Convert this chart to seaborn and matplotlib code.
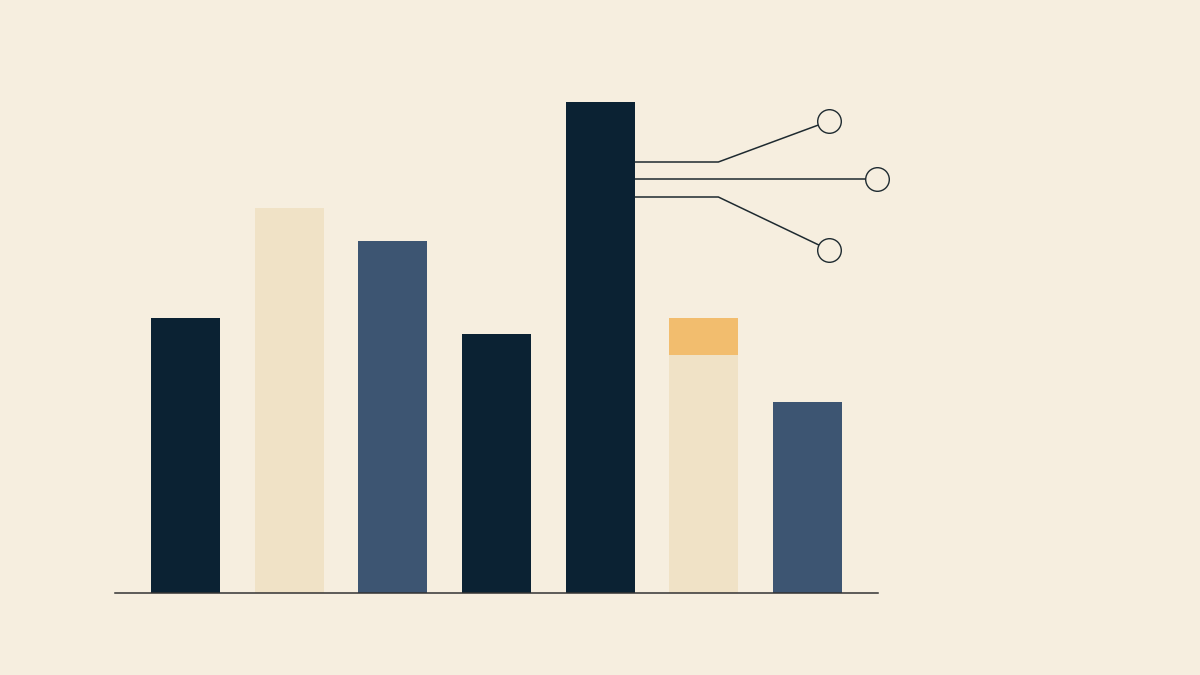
import matplotlib
matplotlib.use("Agg")
from matplotlib import pyplot as plt
import pandas as pd
import seaborn as sns

# bar data (one unit = 100 px of the reference)
cats = ["A", "B", "C", "D", "E", "F", "G"]
base_vals = [2.75, 3.85, 3.52, 2.59, 4.91, 2.38, 1.91]
top_vals = [0, 0, 0, 0, 0, 0.37, 0]
base_colors = ["#0B2233", "#F0E2C6", "#3D5572", "#0B2233", "#0B2233", "#F0E2C6", "#3D5572"]
top_colors = ["#0B2233", "#F0E2C6", "#3D5572", "#0B2233", "#0B2233", "#F2BD6E", "#3D5572"]

# callout lines leaving the tallest bar
callout_bar = 4
callout_start_y = [4.31, 4.14, 3.96]
callout_elbow_x = [5.14, 6.67, 5.14]
callout_end = [(6.21, 4.72), (6.67, 4.14), (6.21, 3.43)]

bg = "#F6EEDF"
ink = "#1E2A30"
bar_w = 0.665

df = pd.DataFrame({"cat": cats,
                   "total": [b + t for b, t in zip(base_vals, top_vals)],
                   "base": base_vals})

fig = plt.figure(figsize=(12, 6.75), dpi=100, facecolor=bg)
ax = fig.add_axes([115 / 1200, 82 / 675, 763 / 1200, 533 / 675])
ax.set_facecolor(bg)

sns.barplot(data=df, x="cat", y="total", hue="cat", palette=top_colors,
            legend=False, width=bar_w, saturation=1, linewidth=0, ax=ax)
sns.barplot(data=df, x="cat", y="base", hue="cat", palette=base_colors,
            legend=False, width=bar_w, saturation=1, linewidth=0, ax=ax)

x0 = callout_bar + bar_w / 2
for sy, ex, (cx, cy) in zip(callout_start_y, callout_elbow_x, callout_end):
    ax.plot([x0, ex, cx], [sy, sy, cy], color=ink, lw=1.1,
            clip_on=False, zorder=3, solid_capstyle="butt")
    ax.plot(cx, cy, marker="o", markersize=17, markerfacecolor=bg,
            markeredgecolor=ink, markeredgewidth=1.0, clip_on=False, zorder=4)

ax.set_xlim(-0.68, 6.68)
ax.set_ylim(0, 5.33)
for s in ["top", "right", "left"]:
    ax.spines[s].set_visible(False)
ax.spines["bottom"].set_color("#333333")
ax.spines["bottom"].set_linewidth(1.1)
ax.set_xticks([])
ax.set_yticks([])
ax.set_xlabel("")
ax.set_ylabel("")

plt.savefig("out.png", dpi=100, facecolor=bg)
